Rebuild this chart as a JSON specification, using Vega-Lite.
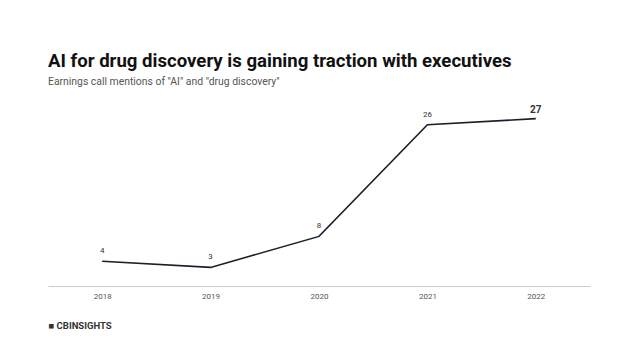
{
  "$schema": "https://vega.github.io/schema/vega-lite/v6.json",
  "autosize": "none",
  "width": 542,
  "height": 186,
  "padding": {"left": 48, "top": 100, "right": 48, "bottom": 73},
  "background": "white",
  "config": {"view": {"stroke": null}, "font": "Roboto"},
  "title": {
    "text": "AI for drug discovery is gaining traction with executives",
    "subtitle": "Earnings call mentions of \"AI\" and \"drug discovery\"",
    "anchor": "start",
    "frame": "group",
    "fontSize": 18.6,
    "fontWeight": "bold",
    "color": "#111111",
    "subtitleFontSize": 10.4,
    "subtitleColor": "#555555",
    "subtitlePadding": 6,
    "offset": 13
  },
  "data": {
    "values": [
      {"year": "2018", "mentions": 4, "big": false},
      {"year": "2019", "mentions": 3, "big": false},
      {"year": "2020", "mentions": 8, "big": false},
      {"year": "2021", "mentions": 26, "big": false},
      {"year": "2022", "mentions": 27, "big": true}
    ]
  },
  "encoding": {
    "x": {
      "field": "year",
      "type": "ordinal",
      "scale": {"type": "point", "padding": 0.5},
      "axis": {
        "title": "■ CBINSIGHTS",
        "titleAnchor": "start",
        "titleAlign": "left",
        "titleFontSize": 9.5,
        "titleFontWeight": "bold",
        "titleColor": "#333333",
        "titlePadding": 20,
        "labelAngle": 0,
        "labelFontSize": 8,
        "labelColor": "#555555",
        "labelPadding": 6,
        "ticks": false,
        "domainColor": "#cccccc",
        "domainWidth": 1
      }
    },
    "y": {
      "field": "mentions",
      "type": "quantitative",
      "scale": {"domain": [0, 30]},
      "axis": null
    }
  },
  "layer": [
    {"mark": {"type": "line", "color": "#1b1e2b", "strokeWidth": 1.6}},
    {
      "mark": {"type": "text", "dy": -10, "fontSize": 8, "color": "#333333"},
      "transform": [{"filter": "!datum.big"}],
      "encoding": {"text": {"field": "mentions", "type": "quantitative"}}
    },
    {
      "mark": {"type": "text", "dy": -9, "fontSize": 10, "fontWeight": "bold", "color": "#333333"},
      "transform": [{"filter": "datum.big"}],
      "encoding": {"text": {"field": "mentions", "type": "quantitative"}}
    }
  ]
}
